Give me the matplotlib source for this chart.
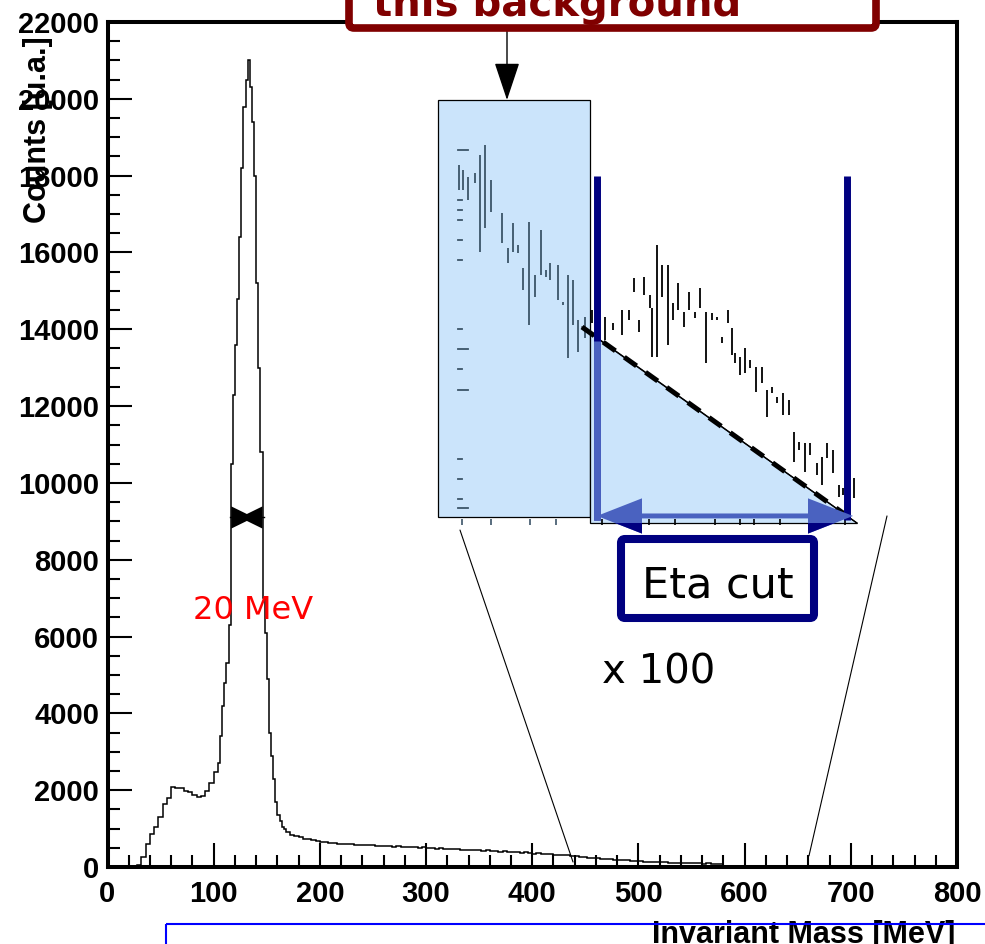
import numpy as np
import matplotlib
matplotlib.use('Agg')
import matplotlib.pyplot as plt
import matplotlib.transforms as mtransforms
from matplotlib.patches import (FancyBboxPatch, Rectangle, Polygon,
                                FancyArrow, ConnectionPatch)
from matplotlib.ticker import MultipleLocator

W, H = 985, 944
ROOT_FONT = ['Liberation Sans', 'DejaVu Sans']

# invariant mass spectrum, variable binning (finer around the pi0 peak)
mass_edges = np.concatenate([np.arange(24, 104, 4), np.arange(104, 168, 2),
                             np.arange(168, 584, 4)])
counts = [
    # 24 - 104 MeV, 4 MeV bins
    0, 40, 250, 600, 850, 1050, 1300, 1650, 1800, 2080,
    2050, 2060, 1980, 1960, 1870, 1830, 1840, 1980, 2200, 2480,
    # 104 - 168 MeV, 2 MeV bins
    2700, 3400, 4200, 4800, 5300, 6300, 10500, 12300, 13600, 14800,
    16400, 18200, 19800, 20500, 21000, 20300, 19400, 18000, 15200, 13000,
    10800, 7000, 6100, 4900, 3500, 2900, 2300, 1700, 1350, 1200,
    1050, 980,
    # 168 - 580 MeV, 4 MeV bins
    900, 840, 800, 770, 740, 720, 700, 680, 660, 650,
    630, 620, 600, 610, 590, 600, 580, 570, 580, 560,
    565, 550, 545, 555, 540, 530, 540, 525, 530, 515,
    520, 505, 510, 495, 500, 480, 490, 470, 475, 460,
    470, 450, 455, 440, 445, 430, 420, 430, 410, 415,
    400, 405, 390, 395, 380, 370, 380, 360, 350, 355,
    340, 330, 335, 320, 310, 315, 300, 290, 280, 270,
    255, 245, 240, 225, 220, 210, 200, 195, 185, 175,
    170, 160, 150, 145, 140, 130, 135, 125, 120, 125,
    115, 110, 115, 105, 100, 105, 95, 100, 90, 95,
    85, 90, 80,
]

# width marker on the peak
fwhm_left, fwhm_right, fwhm_level = 116.5, 146.0, 9100

# zoomed region (x100): bin-to-bin steps of the high-mass tail
inset_mass = [444.9, 446.5, 448.5, 451.2, 453.2, 455.2, 457.6, 461.9, 464.3,
              466.5, 468.5, 470.5, 472.9, 475.2, 477.6, 479.6, 481.2, 484.3,
              486.3, 488.3, 490.5, 492.5, 495.2,
              497.9, 503.2, 506.5, 509.9, 512.8, 514.8, 516.9, 518.9, 521.2,
              521.9, 523.9, 525.9, 528.3, 530.3, 532.5, 534.8, 536.9, 539.2,
              541.2, 543.6, 545.9, 547.9, 549.9, 552.3, 553.9, 555.2, 557.2,
              559.2, 561.2, 563.6, 565.9, 567.9, 569.9, 571.9, 574.5, 576.9,
              578.8, 580.9, 583.2, 585.2, 587.9, 589.9, 591.9, 594.5, 596.9,
              598.5, 600.9, 602.8]
inset_hi = [253.9, 250.4, 245.6, 248.0, 261.0, 268.0, 243.3, 219.6, 194.8,
            212.5, 197.2, 180.6, 213.7, 175.9, 207.8, 179.5, 184.2, 183.0,
            157.0, 175.9, 172.4, 144.0, 146.4,
            151.0, 146.4, 141.6, 151.1, 151.1, 173.5, 144.0, 174.7, 161.7,
            152.3, 197.2, 183.0, 183.0, 155.8, 170.0, 149.9, 164.0, 149.9,
            166.4, 149.9, 148.7, 146.4, 132.2, 151.1, 138.1, 120.3, 118.0,
            123.9, 115.6, 110.9, 110.9, 94.3, 96.7, 89.6, 92.0, 87.2,
            64.8, 57.7, 56.5, 56.5, 42.3, 47.1, 56.5, 51.8, 27.0,
            24.6, 30.5, 31.7]
inset_lo = [236.2, 236.2, 229.1, 241.0, 192.5, 209.0, 220.8, 198.4, 184.2,
            192.5, 191.3, 165.3, 140.4, 160.5, 175.9, 174.7, 172.4, 158.2,
            154.6, 116.8, 140.4, 121.5, 131.0,
            141.6, 129.8, 136.9, 133.3, 144.0, 164.0, 135.7, 161.7, 152.3,
            118.0, 118.0, 160.5, 126.3, 144.0, 151.1, 139.3, 151.1, 145.2,
            152.3, 113.3, 144.0, 144.0, 127.5, 141.6, 119.2, 113.3, 105.0,
            106.2, 109.7, 93.2, 99.1, 75.4, 92.0, 84.9, 76.6, 76.6,
            43.5, 51.8, 36.4, 48.3, 34.0, 27.0, 45.9, 35.2, 18.7,
            19.9, 25.8, 17.5]
inset_axis_marks = [264.5, 229.1, 222.0, 214.9, 200.7, 186.5, 137.4, 123.2,
                    109.0, 94.3, 45.2, 31.0, 16.8, 10.4]
inset_axis_long = [264.5, 123.2, 94.3, 10.4]
inset_xticks = [446.0, 457.6, 473.2, 483.6, 502.0, 520.8, 531.2, 547.2,
                557.2, 562.8, 573.2, 599.2]

# background estimate under the eta and the cut window
bkg_mass = [494.0, 604.0]
bkg_level = [139.0, 0.0]
sideband = (436.4, 497.2)
eta_cut = (500.0, 600.0)
eta_cut_top = 246.0

# zoom window on the main spectrum
zoom_from = [(445.2, -5.0), (616.0, 5.0)]
zoom_to = [(438.4, 130.0), (660.6, 290.0)]

fig = plt.figure(figsize=(W / 100, H / 100), dpi=100)
# pixel coordinates measured from the top-left corner of the figure
top_left_px = mtransforms.Affine2D().scale(1 / W, -1 / H).translate(0, 1) \
    + fig.transFigure

ax = fig.add_axes([107.5 / W, 1 - 867 / H, (957 - 107.5) / W, (867 - 22) / H])
ax.stairs(counts, mass_edges, baseline=0, color='black', lw=1.1)
ax.set_xlim(0, 800)
ax.set_ylim(0, 22000)
ax.xaxis.set_major_locator(MultipleLocator(100))
ax.xaxis.set_minor_locator(MultipleLocator(20))
ax.yaxis.set_major_locator(MultipleLocator(2000))
ax.yaxis.set_minor_locator(MultipleLocator(500))
ax.tick_params(which='both', direction='in', top=False, right=False,
               width=1.5, colors='black')
ax.tick_params(which='major', length=17)
ax.tick_params(which='minor', length=8.5)
ax.tick_params(axis='y', pad=6)
ax.tick_params(axis='x', pad=9)
for lab in ax.get_xticklabels() + ax.get_yticklabels():
    lab.set_fontfamily(ROOT_FONT)
    lab.set_fontweight('bold')
    lab.set_fontsize(21)
for sp in ax.spines.values():
    sp.set_linewidth(2.9)

# half-width marker and its label
mid = 0.5 * (fwhm_left + fwhm_right)
half_h, waist = 290, 90
ax.fill([fwhm_left, mid, fwhm_right, fwhm_right, mid, fwhm_left],
        [fwhm_level + half_h, fwhm_level + waist, fwhm_level + half_h,
         fwhm_level - half_h, fwhm_level - waist, fwhm_level - half_h],
        color='black', lw=0, zorder=4)
ax.plot([fwhm_left - 1.5, fwhm_right + 1.5], [fwhm_level, fwhm_level],
        color='black', lw=1, zorder=4)
ax.text(80.5, 6460, '20 MeV', color='red', fontsize=23,
        family='DejaVu Sans', ha='left', va='baseline')

fig.text(38, 130, 'Counts [u.a.]', transform=top_left_px, rotation=90,
         ha='center', va='center', fontsize=22, fontweight='bold',
         family=ROOT_FONT)
fig.text(955, 943, 'Invariant Mass [MeV]', transform=top_left_px,
         ha='right', va='baseline', fontsize=22, fontweight='bold',
         family=ROOT_FONT)

# x100 zoom of the tail
ins = fig.add_axes([438 / W, 1 - 523 / H, 420 / W, 423 / H])
ins.set_xlim(436.4, 604.4)
ins.set_ylim(0, 300)
ins.axis('off')
ins.patch.set_alpha(0)

light_blue = '#cbe4fb'
arrow_blue = '#4a62c0'
navy = '#000080'
slate = '#3c5468'

ins.add_patch(Rectangle((sideband[0], 4), sideband[1] - sideband[0], 296,
                        facecolor=light_blue, edgecolor='black', lw=0.9,
                        clip_on=False, zorder=1))
tri_top = np.interp(sideband[1], bkg_mass, bkg_level)
ins.add_patch(Polygon([(sideband[1], tri_top), (sideband[1], 0),
                       (bkg_mass[1], 0)], closed=True, facecolor=light_blue,
                      edgecolor='black', lw=0.9, clip_on=False, zorder=1))

seg_colors = [slate if m < sideband[1] else 'black' for m in inset_mass]
ins.vlines(inset_mass, inset_lo, inset_hi, colors=seg_colors, lw=1.3,
           clip_on=False, zorder=3)
for y in inset_axis_marks:
    x_end = 448.2 if y in inset_axis_long else 445.9
    ins.plot([444.5, x_end], [y, y], color=slate, lw=1.3, clip_on=False,
             zorder=3)
ins.vlines(inset_xticks, -1.5, 2.5,
           colors=[slate if m < sideband[1] else 'black' for m in inset_xticks],
           lw=1.2, clip_on=False, zorder=3)

ins.plot(bkg_mass, bkg_level, color='black', lw=0.9, clip_on=False, zorder=4)
ins.plot(bkg_mass, bkg_level, color='black', lw=3.6, ls=(0, (3.0, 2.2)),
         clip_on=False, zorder=4)

ins.vlines(eta_cut, 2, eta_cut_top, colors=navy, lw=5, clip_on=False,
           zorder=5)
ins.vlines(eta_cut[0], 2, tri_top - 6, colors=arrow_blue, lw=5,
           clip_on=False, zorder=5)

# double arrow spanning the cut window, darker where it hangs below the frame
centre = 0.5 * (eta_cut[0] + eta_cut[1])
below_frame = Polygon([(420, -40), (640, -40), (640, 0), (420, 0)],
                      closed=True, transform=ins.transData)
for colour, below_only in ((arrow_blue, False), (navy, True)):
    for end in (eta_cut[0], eta_cut[1] + 2.4):
        arr = FancyArrow(centre, 5, end - centre, 0, width=3.5,
                         head_width=25, head_length=18,
                         length_includes_head=True, color=colour, lw=0,
                         zorder=6 + below_only)
        ins.add_patch(arr)
        if below_only:
            arr.set_clip_box(None)
            arr.set_clip_path(below_frame)
            arr.set_clip_on(True)
        else:
            arr.set_clip_on(False)

# lines tying the inset to the mass range it shows
for a, b in zip(zoom_from, zoom_to):
    fig.add_artist(ConnectionPatch(xyA=a, coordsA=ins.transData, xyB=b,
                                   coordsB=ax.transData, color='black',
                                   lw=0.8))

# eta cut box and scale note
fig.add_artist(FancyBboxPatch((621, 539), 193, 79, transform=top_left_px,
                              boxstyle='round,pad=0,rounding_size=4',
                              facecolor='white', edgecolor=navy, lw=5.8))
fig.text(718, 597, 'Eta cut', transform=top_left_px, ha='center',
         va='baseline', fontsize=31, family='DejaVu Sans')
fig.text(602, 683, 'x 100', transform=top_left_px, ha='left',
         va='baseline', fontsize=29, family='DejaVu Sans')

# callout box at the top pointing to the sideband
fig.add_artist(FancyBboxPatch((349, -60), 527, 88, transform=top_left_px,
                              boxstyle='round,pad=0,rounding_size=5',
                              facecolor='white', edgecolor='#800000', lw=5.5,
                              zorder=5))
fig.text(373, 16, 'this background', transform=top_left_px, ha='left',
         va='baseline', fontsize=29, fontweight='bold', color='#800000',
         family='DejaVu Sans', zorder=6)
ins.annotate('', xy=(464, 300), xycoords='data',
             xytext=(507, H - 28), textcoords='figure pixels',
             arrowprops=dict(arrowstyle='-|>,head_length=1.2,head_width=0.4',
                             mutation_scale=20, color='black', lw=1,
                             shrinkA=0, shrinkB=0), annotation_clip=False)

# framed box along the bottom edge
fig.add_artist(Rectangle((166, 924), 900, 100, transform=top_left_px,
                         fill=False, edgecolor='#0000ff', lw=1.5, zorder=10))

fig.savefig('out.png', dpi=100)
